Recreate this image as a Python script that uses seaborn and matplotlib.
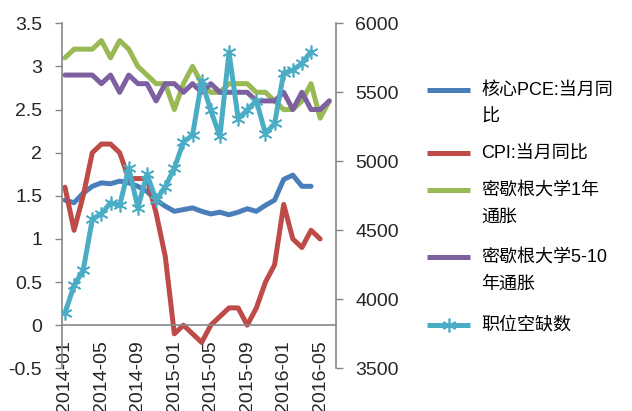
import numpy as np
import matplotlib
matplotlib.use("Agg")
import matplotlib.pyplot as plt
import seaborn as sns
from matplotlib.lines import Line2D

# monthly data, 2014-01 .. 2016-06
months = [f"{y}-{m:02d}" for y in (2014, 2015, 2016) for m in range(1, 13)][:30]
core_pce = [1.45, 1.42, 1.53, 1.61, 1.65, 1.64, 1.67, 1.65, 1.61, 1.55, 1.45, 1.38,
            1.32, 1.34, 1.36, 1.32, 1.29, 1.31, 1.28, 1.31, 1.35, 1.32, 1.39, 1.45,
            1.69, 1.74, 1.61, 1.61]
cpi = [1.6, 1.1, 1.5, 2.0, 2.1, 2.1, 2.0, 1.7, 1.7, 1.7, 1.3, 0.8,
       -0.1, 0.0, -0.1, -0.2, 0.0, 0.1, 0.2, 0.2, 0.0, 0.2, 0.5, 0.7,
       1.4, 1.0, 0.9, 1.1, 1.0]
mich_1y = [3.1, 3.2, 3.2, 3.2, 3.3, 3.1, 3.3, 3.2, 3.0, 2.9, 2.8, 2.8,
           2.5, 2.8, 3.0, 2.8, 2.7, 2.7, 2.8, 2.8, 2.8, 2.7, 2.7, 2.6,
           2.5, 2.5, 2.6, 2.8, 2.4, 2.6]
mich_5_10 = [2.9, 2.9, 2.9, 2.9, 2.8, 2.9, 2.7, 2.9, 2.8, 2.8, 2.6, 2.8,
             2.8, 2.7, 2.8, 2.7, 2.8, 2.7, 2.7, 2.7, 2.7, 2.6, 2.6, 2.6,
             2.7, 2.5, 2.7, 2.5, 2.5, 2.6]
job_openings = [3900, 4100, 4210, 4580, 4620, 4700, 4680, 4950, 4665, 4905, 4720, 4815,
                4950, 5140, 5190, 5580, 5370, 5180, 5790, 5310, 5370, 5440, 5200, 5275,
                5640, 5660, 5710, 5795]

left_ticks = [-0.5, 0, 0.5, 1, 1.5, 2, 2.5, 3, 3.5]
right_ticks = [3500, 4000, 4500, 5000, 5500, 6000]

c_blue, c_red, c_green, c_purple, c_cyan = "#4A7EBB", "#BE4B48", "#98B954", "#7D60A0", "#4BACC6"
star = (6, 2, 0)
lw = 3.6
gray = "#868686"

sns.set_style("white")
plt.rcParams["font.family"] = ["Liberation Sans", "Noto Sans CJK SC", "DejaVu Sans"]

fig = plt.figure(figsize=(6.32, 4.11), dpi=100)
ax = fig.add_axes([0.0976, 0.1039, 0.4335, 0.8394])
ax2 = ax.twinx()

for vals, col in [(core_pce, c_blue), (cpi, c_red), (mich_1y, c_green), (mich_5_10, c_purple)]:
    sns.lineplot(x=np.arange(len(vals)), y=vals, ax=ax, color=col, lw=lw,
                 solid_joinstyle="round", solid_capstyle="round")
sns.lineplot(x=np.arange(len(job_openings)), y=job_openings, ax=ax2, color=c_cyan, lw=lw,
             solid_joinstyle="round", marker=star, markersize=10, markeredgecolor=c_cyan,
             markerfacecolor=c_cyan, markeredgewidth=1.2)

ax.set_xlim(-0.2, 29.7)
ax.set_ylim(-0.5, 3.5)
ax2.set_ylim(3500, 6000)

ax.set_yticks(left_ticks)
ax.set_yticklabels([f"{v:g}" for v in left_ticks])
ax2.set_yticks(right_ticks)
ax2.set_yticklabels([str(v) for v in right_ticks])

tick_pos = list(range(0, 30, 4))
ax.set_xticks(tick_pos)
ax.set_xticklabels(months[::4])
ax.set_xticks([p - 0.36 for p in tick_pos], minor=True)
ax.tick_params(axis="x", which="major", length=0, pad=11, labelsize=14, labelrotation=90)
ax.tick_params(axis="x", which="minor", length=4, width=1, color=gray, direction="out")
ax.tick_params(axis="y", length=5, width=1, color=gray, pad=9, labelsize=14, left=True)
ax2.tick_params(axis="y", length=5, width=1, color=gray, pad=9, labelsize=14, right=True)
ax.set_xlabel("")
ax.set_ylabel("")
ax2.set_ylabel("")

for a in (ax, ax2):
    a.spines["top"].set_visible(False)
    for s in a.spines.values():
        s.set_color(gray)
        s.set_linewidth(1.2)
ax.spines["right"].set_visible(False)
ax2.spines["left"].set_visible(False)
ax2.spines["bottom"].set_visible(False)
ax.spines["bottom"].set_position(("data", 0))

# legend, laid out like the original (wrapped labels, key on the first line)
legend_entries = [
    (["核心PCE:当月同", "比"], c_blue, None),
    (["CPI:当月同比"], c_red, None),
    (["密歇根大学1年", "通胀"], c_green, None),
    (["密歇根大学5-10", "年通胀"], c_purple, None),
    (["职位空缺数"], c_cyan, star),
]
H = 411.0
key_y = [90, 153, 190, 257, 325]
for (lines, col, mk), y in zip(legend_entries, key_y):
    yf = 1 - y / H
    fig.add_artist(Line2D([427 / 632, 470 / 632], [yf, yf], transform=fig.transFigure,
                          color=col, lw=lw, solid_capstyle="butt"))
    if mk is not None:
        fig.add_artist(Line2D([448.5 / 632], [yf], transform=fig.transFigure, color=col,
                              marker=mk, markersize=10, markeredgewidth=1.2, lw=0))
    for k, t in enumerate(lines):
        fig.text(481 / 632, 1 - (y + 27.5 * k) / H, t, fontsize=13, va="center", ha="left",
                 color="black")

fig.savefig("out.png", dpi=100)
